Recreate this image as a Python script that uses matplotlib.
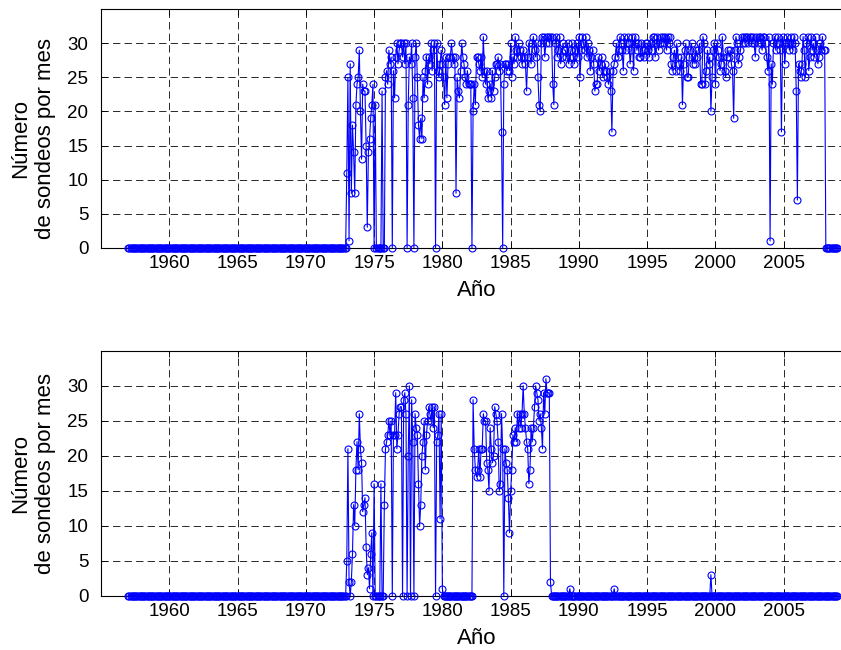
import numpy as np
import matplotlib
matplotlib.use("Agg")
import matplotlib.pyplot as plt

plt.rcParams['font.family'] = ['Liberation Sans', 'DejaVu Sans']
plt.rcParams['lines.scale_dashes'] = False

# monthly counts, one row per year (Jan..Dec), 1957-2008
first_year = 1957

station_a = [
    [0, 0, 0, 0, 0, 0, 0, 0, 0, 0, 0, 0],  # 1957
    [0, 0, 0, 0, 0, 0, 0, 0, 0, 0, 0, 0],
    [0, 0, 0, 0, 0, 0, 0, 0, 0, 0, 0, 0],
    [0, 0, 0, 0, 0, 0, 0, 0, 0, 0, 0, 0],  # 1960
    [0, 0, 0, 0, 0, 0, 0, 0, 0, 0, 0, 0],
    [0, 0, 0, 0, 0, 0, 0, 0, 0, 0, 0, 0],
    [0, 0, 0, 0, 0, 0, 0, 0, 0, 0, 0, 0],
    [0, 0, 0, 0, 0, 0, 0, 0, 0, 0, 0, 0],
    [0, 0, 0, 0, 0, 0, 0, 0, 0, 0, 0, 0],  # 1965
    [0, 0, 0, 0, 0, 0, 0, 0, 0, 0, 0, 0],
    [0, 0, 0, 0, 0, 0, 0, 0, 0, 0, 0, 0],
    [0, 0, 0, 0, 0, 0, 0, 0, 0, 0, 0, 0],
    [0, 0, 0, 0, 0, 0, 0, 0, 0, 0, 0, 0],
    [0, 0, 0, 0, 0, 0, 0, 0, 0, 0, 0, 0],  # 1970
    [0, 0, 0, 0, 0, 0, 0, 0, 0, 0, 0, 0],
    [0, 0, 0, 0, 0, 0, 0, 0, 0, 0, 0, 0],
    [11, 25, 1, 27, 8, 18, 14, 8, 21, 24, 25, 29],
    [20, 13, 24, 23, 23, 15, 3, 14, 16, 19, 21, 24],
    [0, 21, 0, 0, 0, 0, 0, 23, 0, 0, 25, 26],  # 1975
    [24, 29, 27, 28, 0, 26, 22, 28, 30, 27, 29, 30],
    [30, 28, 30, 27, 30, 0, 21, 28, 27, 30, 22, 0],
    [28, 30, 25, 18, 16, 19, 16, 25, 22, 26, 28, 24],
    [28, 27, 30, 26, 29, 30, 0, 30, 26, 25, 27, 29],
    [27, 25, 21, 28, 22, 27, 28, 28, 30, 28, 27, 28],  # 1980
    [8, 25, 23, 22, 26, 30, 28, 27, 25, 24, 26, 24],
    [24, 24, 0, 20, 24, 21, 28, 28, 27, 26, 28, 25],
    [31, 26, 24, 26, 22, 23, 24, 22, 26, 23, 25, 27],
    [27, 28, 26, 27, 17, 0, 24, 27, 27, 26, 27, 26],
    [30, 25, 28, 27, 31, 29, 28, 30, 29, 28, 27, 29],  # 1985
    [28, 27, 23, 28, 30, 28, 27, 30, 31, 29, 28, 30],
    [25, 21, 20, 30, 31, 31, 28, 30, 31, 31, 30, 31],
    [31, 24, 21, 30, 31, 28, 29, 31, 27, 28, 30, 29],
    [29, 28, 30, 27, 28, 29, 30, 28, 27, 29, 30, 28],
    [31, 25, 29, 31, 30, 29, 31, 28, 30, 29, 26, 28],  # 1990
    [29, 27, 23, 24, 24, 28, 26, 27, 28, 25, 26, 27],
    [26, 25, 24, 26, 23, 17, 26, 27, 28, 30, 28, 29],
    [31, 30, 29, 26, 31, 29, 30, 31, 30, 27, 29, 31],
    [26, 31, 30, 29, 30, 28, 28, 30, 29, 28, 29, 30],
    [30, 29, 28, 30, 29, 31, 31, 28, 30, 31, 29, 30],  # 1995
    [31, 30, 31, 30, 31, 29, 31, 30, 31, 27, 26, 28],
    [29, 26, 30, 28, 27, 26, 28, 21, 27, 29, 30, 25],
    [25, 28, 29, 30, 27, 28, 27, 29, 28, 29, 30, 24],
    [24, 31, 30, 24, 26, 29, 27, 28, 20, 25, 29, 30],
    [24, 30, 29, 28, 26, 27, 31, 28, 26, 25, 28, 29],  # 2000
    [28, 29, 27, 26, 19, 29, 31, 30, 27, 28, 29, 31],
    [30, 31, 30, 31, 31, 30, 31, 31, 30, 31, 30, 28],
    [31, 30, 31, 31, 30, 29, 31, 31, 30, 28, 26, 31],
    [1, 27, 24, 30, 31, 29, 30, 31, 30, 29, 17, 31],
    [30, 27, 30, 31, 30, 29, 31, 30, 29, 31, 30, 23],  # 2005
    [7, 27, 26, 25, 27, 31, 29, 25, 30, 31, 26, 28],
    [31, 29, 30, 28, 31, 29, 27, 28, 30, 29, 31, 29],
    [29, 0, 0, 0, 0, 0, 0, 0, 0, 0, 0, 0],
]

station_b = [
    [0, 0, 0, 0, 0, 0, 0, 0, 0, 0, 0, 0],  # 1957
    [0, 0, 0, 0, 0, 0, 0, 0, 0, 0, 0, 0],
    [0, 0, 0, 0, 0, 0, 0, 0, 0, 0, 0, 0],
    [0, 0, 0, 0, 0, 0, 0, 0, 0, 0, 0, 0],  # 1960
    [0, 0, 0, 0, 0, 0, 0, 0, 0, 0, 0, 0],
    [0, 0, 0, 0, 0, 0, 0, 0, 0, 0, 0, 0],
    [0, 0, 0, 0, 0, 0, 0, 0, 0, 0, 0, 0],
    [0, 0, 0, 0, 0, 0, 0, 0, 0, 0, 0, 0],
    [0, 0, 0, 0, 0, 0, 0, 0, 0, 0, 0, 0],  # 1965
    [0, 0, 0, 0, 0, 0, 0, 0, 0, 0, 0, 0],
    [0, 0, 0, 0, 0, 0, 0, 0, 0, 0, 0, 0],
    [0, 0, 0, 0, 0, 0, 0, 0, 0, 0, 0, 0],
    [0, 0, 0, 0, 0, 0, 0, 0, 0, 0, 0, 0],
    [0, 0, 0, 0, 0, 0, 0, 0, 0, 0, 0, 0],  # 1970
    [0, 0, 0, 0, 0, 0, 0, 0, 0, 0, 0, 0],
    [0, 0, 0, 0, 0, 0, 0, 0, 0, 0, 0, 0],
    [5, 21, 2, 0, 2, 6, 13, 10, 18, 22, 18, 26],
    [21, 19, 12, 13, 14, 7, 3, 4, 1, 6, 9, 0],
    [16, 0, 0, 0, 0, 0, 16, 0, 0, 13, 21, 22],  # 1975
    [23, 25, 23, 25, 0, 23, 23, 29, 21, 23, 26, 27],
    [27, 0, 28, 29, 26, 0, 20, 30, 0, 28, 22, 0],
    [26, 24, 23, 16, 10, 13, 20, 22, 25, 18, 23, 25],
    [27, 26, 25, 27, 24, 27, 0, 22, 23, 26, 11, 26],
    [1, 0, 0, 0, 0, 0, 0, 0, 0, 0, 0, 0],  # 1980
    [0, 0, 0, 0, 0, 0, 0, 0, 0, 0, 0, 0],
    [0, 0, 0, 28, 21, 18, 17, 18, 21, 17, 21, 21],
    [26, 25, 25, 19, 18, 15, 24, 21, 19, 20, 27, 26],
    [25, 22, 15, 16, 26, 21, 0, 21, 19, 18, 14, 9],
    [15, 18, 23, 22, 24, 22, 26, 24, 26, 24, 26, 30],  # 1985
    [26, 24, 22, 21, 16, 18, 24, 22, 24, 27, 30, 29],
    [28, 25, 26, 24, 21, 29, 26, 31, 29, 29, 29, 2],
    [0, 0, 0, 0, 0, 0, 0, 0, 0, 0, 0, 0],
    [0, 0, 0, 0, 1, 0, 0, 0, 0, 0, 0, 0],
    [0, 0, 0, 0, 0, 0, 0, 0, 0, 0, 0, 0],  # 1990
    [0, 0, 0, 0, 0, 0, 0, 0, 0, 0, 0, 0],
    [0, 0, 0, 0, 0, 0, 0, 1, 0, 0, 0, 0],
    [0, 0, 0, 0, 0, 0, 0, 0, 0, 0, 0, 0],
    [0, 0, 0, 0, 0, 0, 0, 0, 0, 0, 0, 0],
    [0, 0, 0, 0, 0, 0, 0, 0, 0, 0, 0, 0],  # 1995
    [0, 0, 0, 0, 0, 0, 0, 0, 0, 0, 0, 0],
    [0, 0, 0, 0, 0, 0, 0, 0, 0, 0, 0, 0],
    [0, 0, 0, 0, 0, 0, 0, 0, 0, 0, 0, 0],
    [0, 0, 0, 0, 0, 0, 0, 0, 3, 0, 0, 0],
    [0, 0, 0, 0, 0, 0, 0, 0, 0, 0, 0, 0],  # 2000
    [0, 0, 0, 0, 0, 0, 0, 0, 0, 0, 0, 0],
    [0, 0, 0, 0, 0, 0, 0, 0, 0, 0, 0, 0],
    [0, 0, 0, 0, 0, 0, 0, 0, 0, 0, 0, 0],
    [0, 0, 0, 0, 0, 0, 0, 0, 0, 0, 0, 0],
    [0, 0, 0, 0, 0, 0, 0, 0, 0, 0, 0, 0],  # 2005
    [0, 0, 0, 0, 0, 0, 0, 0, 0, 0, 0, 0],
    [0, 0, 0, 0, 0, 0, 0, 0, 0, 0, 0, 0],
    [0, 0, 0, 0, 0, 0, 0, 0, 0, 0, 0, 0],
]

year_ticks = [1960, 1965, 1970, 1975, 1980, 1985, 1990, 1995, 2000, 2005]
count_ticks = [0, 5, 10, 15, 20, 25, 30]
ylabel_txt = "Número\nde sondeos por mes"
xlabel_txt = "Año"


def monthly(rows):
    vals = np.array(rows, dtype=float).ravel()
    t = first_year + np.arange(vals.size) / 12.0
    return t, vals


W, H = 841, 650
fig = plt.figure(figsize=(W / 100, H / 100), dpi=100)
# axes run past the right edge like the original (cropped) figure
ax1 = fig.add_axes([101 / W, (H - 247.7) / H, 751 / W, 238.4 / H])
ax2 = fig.add_axes([101 / W, (H - 595.7) / H, 751 / W, 245.0 / H])

for ax, rows, ylab_y in [(ax1, station_a, 0.46), (ax2, station_b, 0.5)]:
    t, v = monthly(rows)
    ax.plot(t, v, '-o', color='#0000ff', lw=0.8, ms=5.0, mfc='none',
            mew=0.8, zorder=3, clip_on=False)
    ax.set_xlim(1955, 2010)
    ax.set_ylim(0, 35)
    ax.set_xticks(year_ticks)
    ax.set_yticks(count_ticks)
    ax.grid(True, color='k', linestyle=(0, (5.3, 3.0)), lw=0.65, alpha=0.9)
    ax.tick_params(direction='in', top=True, right=True, length=4, width=0.6,
                   labelsize=13.5, colors='k')
    ax.tick_params(axis='x', pad=5)
    ax.tick_params(axis='y', pad=9)
    for s in ax.spines.values():
        s.set_linewidth(0.8)
    ax.set_xlabel(xlabel_txt, fontsize=16, labelpad=6)
    ax.set_ylabel(ylabel_txt, fontsize=16, ha='center', va='center',
                  linespacing=1.25)
    ax.yaxis.set_label_coords(-68.0 / 751, ylab_y)

fig.savefig("out.png", dpi=100)
